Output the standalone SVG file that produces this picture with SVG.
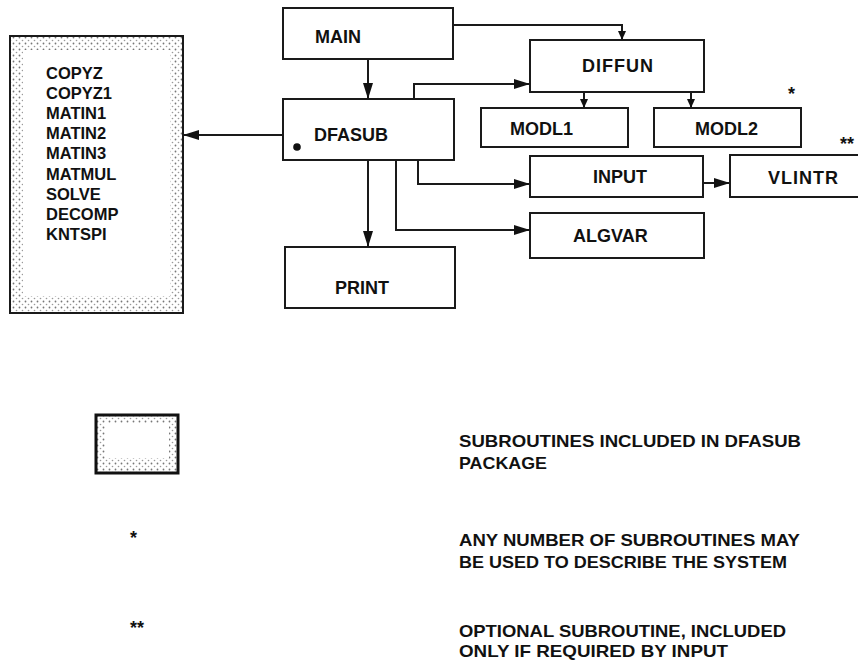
<svg xmlns="http://www.w3.org/2000/svg" width="858" height="664" viewBox="0 0 858 664">
<style>
.box{fill:#fff;stroke:#1a1a1a;stroke-width:2}
.lbl{font-family:"Liberation Sans",Arial,sans-serif;font-weight:bold;font-size:18px;fill:#111}
.lst{font-family:"Liberation Sans",Arial,sans-serif;font-weight:bold;font-size:16.5px;fill:#111}
.leg{font-family:"Liberation Sans",Arial,sans-serif;font-weight:bold;font-size:16.5px;fill:#111}
.con{fill:none;stroke:#1a1a1a;stroke-width:2}
</style>
<defs>
<pattern id="stip" width="6" height="6" patternUnits="userSpaceOnUse">
<rect width="6" height="6" fill="#fff"/>
<circle cx="1.5" cy="1.5" r="0.9" fill="#777"/>
<circle cx="4.5" cy="4.5" r="0.8" fill="#999"/>
</pattern>
<marker id="ah" markerUnits="userSpaceOnUse" markerWidth="16" markerHeight="10" refX="16" refY="5" orient="auto">
<path d="M0,0 L16,5 L0,10 Z" fill="#111"/>
</marker>
<marker id="as" markerUnits="userSpaceOnUse" markerWidth="9" markerHeight="8" refX="9" refY="4" orient="auto">
<path d="M0,0 L9,4 L0,8 Z" fill="#111"/>
</marker>
</defs>
<rect width="858" height="664" fill="#fff"/>

<g id="package">
<rect x="10" y="36" width="173" height="277" fill="url(#stip)"/>
<rect x="23" y="50" width="147" height="246" fill="#fff"/>
<rect x="10" y="36" width="173" height="277" fill="none" stroke="#1a1a1a" stroke-width="2"/>
<text class="lst" x="46" y="78.5">COPYZ</text>
<text class="lst" x="46" y="98.7">COPYZ1</text>
<text class="lst" x="46" y="118.9">MATIN1</text>
<text class="lst" x="46" y="139.1">MATIN2</text>
<text class="lst" x="46" y="159.3">MATIN3</text>
<text class="lst" x="46" y="179.5">MATMUL</text>
<text class="lst" x="46" y="199.7">SOLVE</text>
<text class="lst" x="46" y="219.9">DECOMP</text>
<text class="lst" x="46" y="240.1">KNTSPI</text>
</g>

<g id="main"><rect class="box" x="283" y="8" width="170" height="51"/><text class="lbl" x="315" y="42.5">MAIN</text></g>
<g id="dfasub"><rect class="box" x="283" y="99" width="171" height="61"/><text class="lbl" x="314" y="141">DFASUB</text><circle cx="297" cy="147" r="3.8" fill="#111"/></g>
<g id="diffun"><rect class="box" x="530" y="40" width="174" height="52"/><text class="lbl" x="582" y="72" letter-spacing="1">DIFFUN</text></g>
<g id="modl1"><rect class="box" x="481" y="108" width="147" height="39"/><text class="lbl" x="510" y="135">MODL1</text></g>
<g id="modl2"><rect class="box" x="654" y="108" width="147" height="39"/><text class="lbl" x="695" y="135">MODL2</text></g>
<g id="input"><rect class="box" x="530" y="156" width="173" height="41"/><text class="lbl" x="593" y="183">INPUT</text></g>
<g id="vlintr"><rect class="box" x="730" y="155" width="140" height="42"/><text class="lbl" x="768" y="184" letter-spacing="1">VLINTR</text></g>
<g id="algvar"><rect class="box" x="530" y="213" width="174" height="45"/><text class="lbl" x="573" y="241.5">ALGVAR</text></g>
<g id="print"><rect class="box" x="285" y="247" width="170" height="61"/><text class="lbl" x="335" y="294">PRINT</text></g>

<g id="marks">
<text class="lbl" x="788" y="100">*</text>
<text class="lbl" x="840" y="150">**</text>
</g>

<g id="connectors">
<path class="con" d="M368,59 V99" marker-end="url(#ah)"/>
<path class="con" d="M453,25 H622 V40" marker-end="url(#as)"/>
<path class="con" d="M414,99 V84 H530" marker-end="url(#ah)"/>
<path class="con" d="M584,92 V108" marker-end="url(#as)"/>
<path class="con" d="M691,92 V108" marker-end="url(#as)"/>
<path class="con" d="M283,135 H183" marker-end="url(#ah)"/>
<path class="con" d="M368,160 V247" marker-end="url(#ah)"/>
<path class="con" d="M418,160 V184 H530" marker-end="url(#ah)"/>
<path class="con" d="M396,160 V230 H530" marker-end="url(#ah)"/>
<path class="con" d="M703,183 H730" marker-end="url(#ah)"/>
</g>

<g id="legend">
<rect x="96" y="415" width="82" height="58" fill="url(#stip)"/>
<rect x="105" y="423" width="64" height="35" fill="#fff"/>
<rect x="96" y="415" width="82" height="58" fill="none" stroke="#111" stroke-width="3"/>
<text class="leg" x="459" y="447" textLength="342" lengthAdjust="spacingAndGlyphs">SUBROUTINES INCLUDED IN DFASUB</text>
<text class="leg" x="459" y="469" textLength="88" lengthAdjust="spacingAndGlyphs">PACKAGE</text>
<text class="lbl" x="130" y="544">*</text>
<text class="leg" x="459" y="546" textLength="341" lengthAdjust="spacingAndGlyphs">ANY NUMBER OF SUBROUTINES MAY</text>
<text class="leg" x="459" y="568" textLength="328" lengthAdjust="spacingAndGlyphs">BE USED TO DESCRIBE THE SYSTEM</text>
<text class="lbl" x="130" y="634">**</text>
<text class="leg" x="459" y="637" textLength="327" lengthAdjust="spacingAndGlyphs">OPTIONAL SUBROUTINE, INCLUDED</text>
<text class="leg" x="459" y="657" textLength="269" lengthAdjust="spacingAndGlyphs">ONLY IF REQUIRED BY INPUT</text>
</g>
</svg>
